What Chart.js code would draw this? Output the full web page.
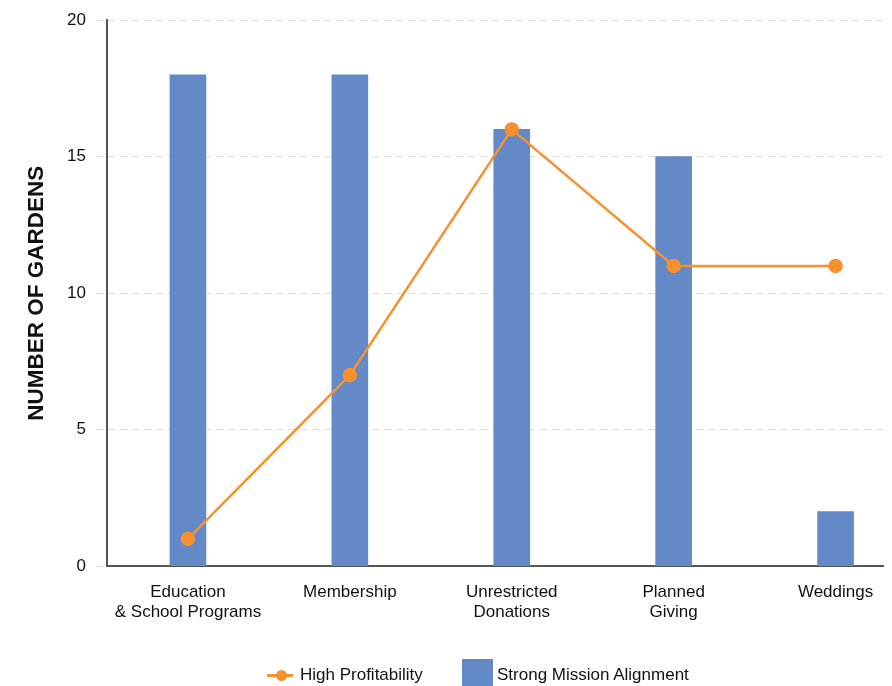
<!DOCTYPE html>
<html>
<head>
<meta charset="utf-8">
<script src="https://cdn.jsdelivr.net/npm/chart.js@4.4.1/dist/chart.umd.min.js"></script>
<style>
  html, body { margin: 0; padding: 0; background: #fff; overflow: hidden; }
  #clip { position: absolute; left: 0; top: 0; width: 884px; height: 686px; overflow: hidden; }
  #wrap { position: absolute; left: 0; top: 0; width: 925px; height: 686px; }
  #legend { position: absolute; left: 0; top: 0; width: 892px; height: 686px; pointer-events: none;
            font-family: "Liberation Sans", Arial, sans-serif; font-size: 17px; color: #111; }
  .lg { position: absolute; }
</style>
</head>
<body>
<div id="clip"><div id="wrap"><canvas id="chart"></canvas></div></div>
<div id="legend">
  <div class="lg" style="left:267px;top:674px;width:26px;height:3px;background:#F7902F;"></div>
  <div class="lg" style="left:276px;top:670px;width:11px;height:11px;border-radius:50%;background:#F7902F;"></div>
  <div class="lg" style="left:300px;top:665px;">High Profitability</div>
  <div class="lg" style="left:462px;top:659px;width:31px;height:32px;background:#6389C7;"></div>
  <div class="lg" style="left:497px;top:665px;">Strong Mission Alignment</div>
</div>
<script>
const categories = [['Education', '& School Programs'], 'Membership', ['Unrestricted', 'Donations'], ['Planned', 'Giving'], 'Weddings'];
const missionAlignment = [18, 18, 16, 15, 2];
const highProfitability = [1, 7, 16, 11, 11];
const yTicks = [0, 5, 10, 15, 20];

const ctx = document.getElementById('chart');
const font = '"Liberation Sans", Arial, sans-serif';

new Chart(ctx, {
    data: {
        labels: categories,
        datasets: [{
            type: 'line',
            label: 'High Profitability',
            data: highProfitability,
            borderColor: '#F7902F',
            backgroundColor: '#F7902F',
            borderWidth: 2.5,
            pointRadius: 6,
            pointHoverRadius: 6,
            tension: 0,
            order: 0
        }, {
            type: 'bar',
            label: 'Strong Mission Alignment',
            data: missionAlignment,
            backgroundColor: '#6389C7',
            barThickness: 36,
            order: 1
        }]
    },
    options: {
        responsive: true,
        maintainAspectRatio: false,
        animation: false,
        layout: { padding: { left: 23, right: 3, top: 6, bottom: 47 } },
        plugins: {
            legend: { display: false },
            tooltip: { enabled: false }
        },
        scales: {
            x: {
                grid: { display: false, drawTicks: false },
                border: { color: '#555', width: 2 },
                ticks: {
                    color: '#111',
                    padding: 16,
                    maxRotation: 0,
                    autoSkip: false,
                    font: { family: font, size: 17 }
                }
            },
            y: {
                min: 0,
                max: 20,
                afterBuildTicks: s => { s.ticks = yTicks.map(v => ({ value: v })); },
                afterFit: s => { s.width = 84; },
                grid: { color: '#dddddd', lineWidth: 1, tickLength: 11, tickBorderDash: [7, 5] },
                border: { color: '#555', width: 2, dash: [7, 5] },
                ticks: {
                    color: '#111',
                    padding: 10,
                    font: { family: font, size: 17 }
                },
                title: {
                    display: true,
                    text: 'NUMBER OF GARDENS',
                    color: '#111',
                    padding: 0,
                    font: { family: font, size: 22.5, weight: 'bold' }
                }
            }
        }
    }
});
</script>
</body>
</html>
